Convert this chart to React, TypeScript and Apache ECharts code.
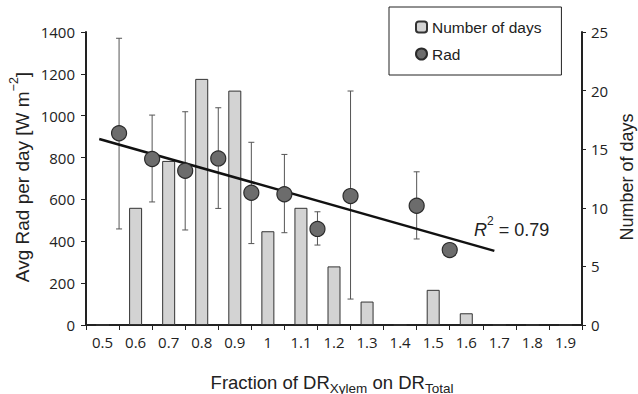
import React, { useEffect, useRef } from "react";
import * as echarts from "echarts";

const categories = ["0.5", "0.6", "0.7", "0.8", "0.9", "1", "1.1", "1.2", "1.3", "1.4", "1.5", "1.6", "1.7", "1.8", "1.9"];
const dayCounts = [0, 10, 14, 21, 20, 8, 10, 5, 2, 0, 3, 1, 0, 0, 0];
const radX = [0.55, 0.65, 0.75, 0.85, 0.95, 1.05, 1.15, 1.25, 1.45, 1.55];
const radMean = [916, 793, 737, 796, 632, 625, 459, 616, 570, 358];
const radLow = [459, 588, 454, 557, 389, 441, 382, 124, 411, 358];
const radHigh = [1370, 1003, 1019, 1038, 873, 815, 541, 1118, 732, 358];
const trendX = [0.49, 1.685];
const trendY = [889, 354];

const TICK_FONT = "Open Sans";
const TITLE_FONT = "Liberation Sans";
const DARK = "#222";

export default function App() {
  const ref = useRef<HTMLDivElement>(null);
  useEffect(() => {
    if (!ref.current) return;
    const chart = echarts.init(ref.current, undefined, { renderer: "svg" });
    const scatterData = radX.map((x, i) => [x, radMean[i]]);
    const errData = radX.map((x, i) => [x, radLow[i], radHigh[i]]);
    const trendData = trendX.map((x, i) => [x, trendY[i]]);
    const plain = (v: number) => String(v);
    chart.setOption({
      animation: false,
      backgroundColor: "#fff",
      grid: { left: 86, right: 56, top: 32, bottom: 69, containLabel: false },
      legend: {
        data: ["Number of days", "Rad"],
        orient: "vertical",
        left: 389,
        top: 7,
        padding: [12, 20, 13, 26],
        itemWidth: 11,
        itemHeight: 11,
        itemGap: 11,
        borderColor: DARK,
        borderWidth: 1,
        borderRadius: 0,
        textStyle: { fontFamily: TITLE_FONT, fontSize: 15.5, color: DARK, lineHeight: 16 },
      },
      xAxis: [
        {
          type: "category",
          data: categories,
          boundaryGap: true,
          axisLine: { lineStyle: { color: DARK, width: 2 } },
          axisTick: { show: true, interval: 0, length: 5, lineStyle: { color: DARK, width: 1 } },
          axisLabel: { interval: 0, fontFamily: TICK_FONT, fontSize: 15, color: DARK, margin: 9 },
          splitLine: { show: false },
        },
        { type: "value", min: 0.45, max: 1.95, show: false },
      ],
      yAxis: [
        {
          type: "value",
          min: 0,
          max: 1400,
          interval: 200,
          axisLine: { show: true, lineStyle: { color: DARK, width: 2 } },
          axisTick: { show: true, length: 5, lineStyle: { color: DARK } },
          axisLabel: { fontFamily: TICK_FONT, fontSize: 15, color: DARK, margin: 11, formatter: plain },
          splitLine: { show: false },
        },
        {
          type: "value",
          min: 0,
          max: 25,
          interval: 5,
          position: "right",
          axisLine: { show: true, lineStyle: { color: DARK, width: 2 } },
          axisTick: { show: true, length: 4, lineStyle: { color: DARK } },
          axisLabel: { fontFamily: TICK_FONT, fontSize: 15, color: DARK, margin: 9, formatter: plain },
          splitLine: { show: false },
        },
      ],
      series: [
        {
          name: "Number of days",
          type: "bar",
          xAxisIndex: 0,
          yAxisIndex: 1,
          data: dayCounts,
          barWidth: 13,
          itemStyle: { color: "#d3d3d3", borderColor: "#333", borderWidth: 1 },
          z: 2,
        },
        {
          name: "err",
          type: "custom",
          xAxisIndex: 1,
          yAxisIndex: 0,
          data: errData,
          encode: { x: 0, y: [1, 2] },
          z: 3,
          renderItem: (params: any, api: any) => {
            const x = api.value(0);
            const pLo = api.coord([x, api.value(1)]);
            const pHi = api.coord([x, api.value(2)]);
            const w = 3;
            const style = { stroke: "#555", lineWidth: 1 };
            return {
              type: "group",
              children: [
                { type: "line", shape: { x1: pHi[0], y1: pHi[1], x2: pLo[0], y2: pLo[1] }, style },
                { type: "line", shape: { x1: pHi[0] - w, y1: pHi[1], x2: pHi[0] + w, y2: pHi[1] }, style },
                { type: "line", shape: { x1: pLo[0] - w, y1: pLo[1], x2: pLo[0] + w, y2: pLo[1] }, style },
              ],
            };
          },
        },
        {
          name: "trend",
          type: "line",
          xAxisIndex: 1,
          yAxisIndex: 0,
          data: trendData,
          showSymbol: false,
          symbol: "none",
          lineStyle: { color: "#111", width: 2.5 },
          z: 4,
        },
        {
          name: "Rad",
          type: "scatter",
          xAxisIndex: 1,
          yAxisIndex: 0,
          data: scatterData,
          symbol: "circle",
          symbolSize: 15,
          itemStyle: { color: "#6c6c6c", borderColor: "#2a2a2a", borderWidth: 1.2, opacity: 1 },
          z: 5,
        },
      ],
      graphic: [
        {
          type: "text",
          x: 22,
          y: 177,
          rotation: Math.PI / 2,
          style: {
            text: "{a|Avg Rad per day [W m}{s|\u22122}{a|]}",
            align: "center",
            verticalAlign: "middle",
            rich: {
              a: { fontFamily: TITLE_FONT, fontSize: 19, lineHeight: 30, fill: DARK, verticalAlign: "middle" },
              s: { fontFamily: TITLE_FONT, fontSize: 12.5, lineHeight: 8, fill: DARK, verticalAlign: "top" },
            },
          },
        },
        {
          type: "text",
          x: 627,
          y: 177,
          rotation: Math.PI / 2,
          style: {
            text: "Number of days",
            align: "center",
            verticalAlign: "middle",
            fontFamily: TITLE_FONT,
            fontSize: 18,
            fill: DARK,
          },
        },
        {
          type: "text",
          x: 332,
          y: 382,
          style: {
            text: "{a|Fraction of DR}{b|Xylem}{a| on DR}{b|Total}",
            align: "center",
            verticalAlign: "middle",
            rich: {
              a: { fontFamily: TITLE_FONT, fontSize: 18.5, lineHeight: 26, fill: DARK, verticalAlign: "middle" },
              b: { fontFamily: TITLE_FONT, fontSize: 13.5, lineHeight: 13, fill: DARK, verticalAlign: "bottom" },
            },
          },
        },
        {
          type: "text",
          x: 474,
          y: 230,
          style: {
            text: "{i|R}{s|2}{a| = 0.79}",
            align: "left",
            verticalAlign: "middle",
            rich: {
              i: { fontFamily: TITLE_FONT, fontSize: 18, fontStyle: "italic", lineHeight: 30, fill: DARK, verticalAlign: "middle" },
              a: { fontFamily: TITLE_FONT, fontSize: 18, lineHeight: 30, fill: DARK, verticalAlign: "middle" },
              s: { fontFamily: TITLE_FONT, fontSize: 12, lineHeight: 8, fill: DARK, verticalAlign: "top" },
            },
          },
        },
      ],
    });
    return () => chart.dispose();
  }, []);
  return <div ref={ref} style={{ width: 638, height: 394, position: "absolute", left: 0, top: 0 }} />;
}
